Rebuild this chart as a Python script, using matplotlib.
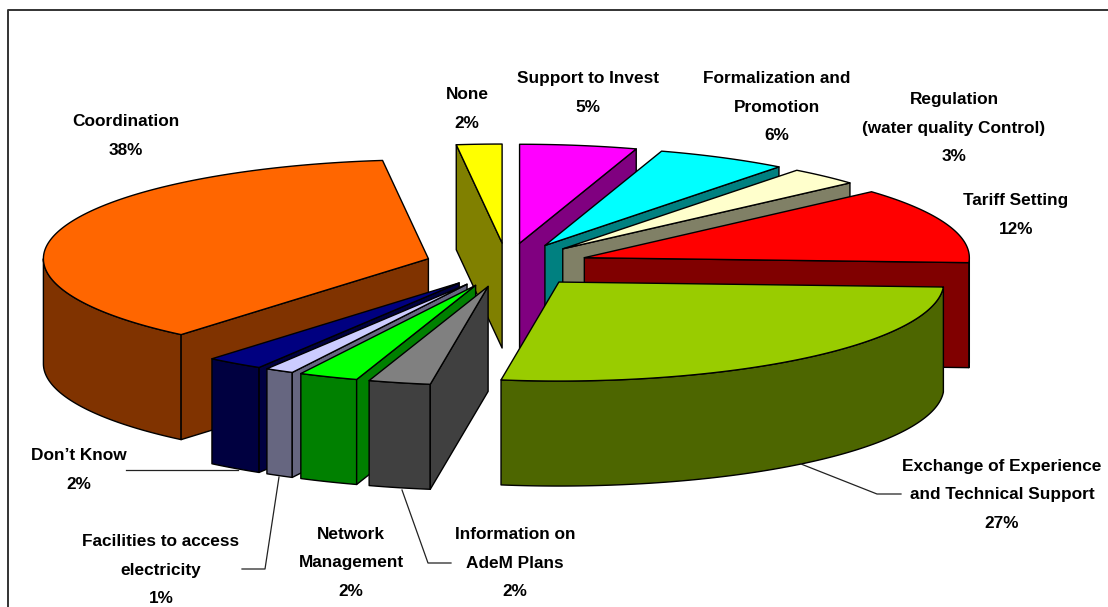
import numpy as np
import matplotlib
matplotlib.use("Agg")
import matplotlib.pyplot as plt
from matplotlib.patches import Polygon

plt.rcParams["font.family"] = ["Liberation Sans", "DejaVu Sans"]

# clockwise from 12 o'clock
names = ["Support to Invest", "Formalization and\nPromotion",
         "Regulation\n(water quality Control)", "Tariff Setting",
         "Exchange of Experience\nand Technical Support",
         "Information on\nAdeM Plans", "Network\nManagement",
         "Facilities to access\nelectricity", "Don\u2019t Know", "Coordination", "None"]
percents = [5, 6, 3, 12, 27, 2, 2, 1, 2, 38, 2]     # as printed on the labels
shares = [4.9, 5.5, 3.0, 12.4, 26.6, 2.6, 2.5, 1.2, 2.4, 37.0, 1.9]   # slice sizes as drawn
top_colors = ["#FF00FF", "#00FFFF", "#FFFFCC", "#FF0000", "#99CC00", "#808080",
              "#00FF00", "#CCCCFF", "#000080", "#FF6600", "#FFFF00"]
side_colors = ["#800080", "#008080", "#808066", "#800000", "#4D6600", "#404040",
               "#008000", "#666680", "#000040", "#803300", "#808000"]
label_x = [588, 777, 954, 1016, 1002, 515, 351, 161, 79, 126, 467]
label_y = [93, 107, 128, 215, 495, 563, 563, 570, 470, 136, 109]

# leader lines, in pixels
leaders = [
    [(238, 470), (126, 470)],
    [(279, 477), (265, 569), (242, 569)],
    [(402, 490), (428, 563), (451, 563)],
    [(801, 464), (877, 494), (901, 494)],
]

W, H = 1108, 607
CX, CY = 507, 265       # pie centre before exploding
RX, RY = 385, 99        # top ellipse radii
EX, EY = 82, 22         # how far a slice is pulled out
DEPTH = 105


def rim(cx, cy, a0, a1, dy=0):
    t = np.radians(np.linspace(a0, a1, max(int(abs(a1 - a0) * 2), 2)))
    return np.column_stack((cx + RX * np.sin(t), cy - RY * np.cos(t) + dy))


fig = plt.figure(figsize=(W / 100, H / 100), dpi=100)
ax = fig.add_axes([0, 0, 1, 1])
ax.set_xlim(0, W)
ax.set_ylim(H, 0)
ax.axis("off")

# frame runs off the right and bottom of the picture
ax.plot([1120, 7.5, 7.5], [9.5, 9.5, 620], color="#333333", lw=1.4, clip_on=True)

edges = np.cumsum([0] + shares) / sum(shares) * 360
slices = []
for i in range(len(shares)):
    mid = np.radians((edges[i] + edges[i + 1]) / 2)
    slices.append((-np.cos(mid), i))

# back to front so nearer slices cover farther ones
for _, i in sorted(slices):
    a0, a1 = edges[i], edges[i + 1]
    mid = np.radians((a0 + a1) / 2)
    cx = CX + EX * np.sin(mid)
    cy = CY - EY * np.cos(mid)
    kw = dict(edgecolor="black", linewidth=1.0, joinstyle="round")

    # outer wall, only the part facing the viewer
    lo, hi = max(a0, 90), min(a1, 270)
    if lo < hi:
        wall = np.vstack((rim(cx, cy, lo, hi), rim(cx, cy, hi, lo, DEPTH)))
        ax.add_patch(Polygon(wall, closed=True, facecolor=side_colors[i], **kw))

    # cut faces
    for a, visible in ((a0, a0 > 180), (a1, a1 < 180)):
        if visible:
            p = rim(cx, cy, a, a + 0.01)[0]
            face = [(cx, cy), p, (p[0], p[1] + DEPTH), (cx, cy + DEPTH)]
            ax.add_patch(Polygon(face, closed=True, facecolor=side_colors[i], **kw))

    top = np.vstack(([(cx, cy)], rim(cx, cy, a0, a1)))
    ax.add_patch(Polygon(top, closed=True, facecolor=top_colors[i], **kw))

for pts in leaders:
    xs, ys = zip(*pts)
    ax.plot(xs, ys, color="#222222", lw=0.9)

for name, pct, x, y in zip(names, percents, label_x, label_y):
    ax.text(x, y, f"{name}\n{pct}%", ha="center", va="center", fontsize=12.4,
            fontweight="bold", linespacing=2.12, color="black")

fig.savefig("out.png", dpi=100)
